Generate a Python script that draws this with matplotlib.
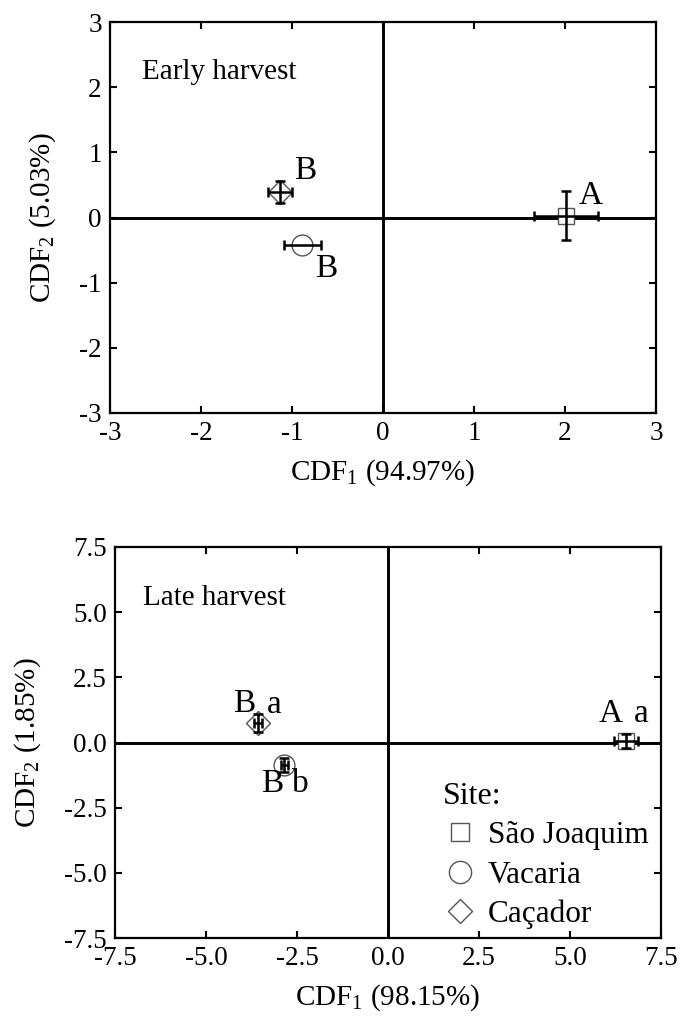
import matplotlib
matplotlib.use("Agg")
import matplotlib.pyplot as plt
from matplotlib.lines import Line2D
import numpy as np

plt.rcParams['font.family'] = ['Liberation Serif', 'DejaVu Serif']
plt.rcParams['mathtext.fontset'] = 'custom'
plt.rcParams['mathtext.rm'] = 'Liberation Serif'
plt.rcParams['axes.unicode_minus'] = False

sites = ["São Joaquim", "Vacaria", "Caçador"]
markers = ["s", "o", "D"]
marker_sizes = [12, 15, 12]

# Early harvest
early_x = [2.01, -0.885, -1.13]
early_y = [0.03, -0.42, 0.39]
early_xerr = [0.35, 0.20, 0.13]
early_yerr = [0.38, 0.0, 0.17]
early_labels = [("A", 2.28, 0.33), ("B", -0.62, -0.78), ("B", -0.86, 0.72)]

# Late harvest
late_x = [6.53, -2.85, -3.57]
late_y = [0.05, -0.87, 0.75]
late_xerr = [0.33, 0.10, 0.12]
late_yerr = [0.28, 0.26, 0.36]
late_labels = [("A", 6.12, 1.1), ("a", 6.95, 1.1),
               ("B", -3.96, 1.5), ("a", -3.12, 1.45),
               ("B", -3.19, -1.6), ("b", -2.41, -1.6)]

fig = plt.figure(figsize=(6.81, 10.23), dpi=100)
ax1 = fig.add_axes([110/681, 1-413/1023, 546/681, 391/1023])
ax2 = fig.add_axes([115/681, 1-938/1023, 546/681, 391/1023])

def style(ax):
    for s in ax.spines.values():
        s.set_linewidth(1.6)
    ax.tick_params(direction='in', length=5, width=1.5, top=True, right=True,
                   labelsize=19.5, pad=6)
    ax.axhline(0, color='black', lw=2.1, zorder=1)
    ax.axvline(0, color='black', lw=2.1, zorder=1)

def draw(ax, xs, ys, xe, ye):
    for x, y, ex, ey, m, ms in zip(xs, ys, xe, ye, markers, marker_sizes):
        ax.plot(x, y, marker=m, ms=ms, mfc='white', mec='#555555', mew=1.0,
                ls='none', zorder=3)
        ax.errorbar(x, y, xerr=ex, yerr=ey if ey > 0 else None, fmt='none',
                    ecolor='black', elinewidth=1.8, capsize=3.5, capthick=1.8,
                    zorder=4)

style(ax1)
draw(ax1, early_x, early_y, early_xerr, early_yerr)
ax1.set_xlim(-3, 3)
ax1.set_ylim(-3, 3)
ax1.set_xticks(np.arange(-3, 4, 1))
ax1.set_yticks(np.arange(-3, 4, 1))
for t, x, y in early_labels:
    ax1.text(x, y, t, fontsize=24, ha='center', va='center')
ax1.text(-2.65, 2.23, "Early harvest", fontsize=21, ha='left', va='center')
ax1.set_xlabel(r"CDF$_\mathregular{1}$ (94.97%)", fontsize=21, labelpad=8)
ax1.set_ylabel(r"CDF$_\mathregular{2}$ (5.03%)", fontsize=21, labelpad=15)

style(ax2)
draw(ax2, late_x, late_y, late_xerr, late_yerr)
ax2.set_xlim(-7.5, 7.5)
ax2.set_ylim(-7.5, 7.5)
ticks2 = np.arange(-7.5, 7.6, 2.5)
ax2.set_xticks(ticks2)
ax2.set_yticks(ticks2)
ax2.set_xticklabels([f"{t:.1f}" for t in ticks2])
ax2.set_yticklabels([f"{t:.1f}" for t in ticks2])
for t, x, y in late_labels:
    ax2.text(x, y, t, fontsize=24, ha='center', va='center')
ax2.text(-6.72, 5.53, "Late harvest", fontsize=21, ha='left', va='center')
ax2.set_xlabel(r"CDF$_\mathregular{1}$ (98.15%)", fontsize=21, labelpad=8)
ax2.set_ylabel(r"CDF$_\mathregular{2}$ (1.85%)", fontsize=21, labelpad=15)

handles = [Line2D([], [], marker=m, ms=ms, mfc='white', mec='#555555', mew=1.0,
                  ls='none') for m, ms in zip(markers, [13, 16, 12])]
leg = ax2.legend(handles, sites, title="Site:", loc='lower left',
                 bbox_to_anchor=(0.577, -0.01), frameon=False, fontsize=22.5,
                 title_fontsize=23, alignment='left', handletextpad=0.35,
                 labelspacing=0.33, borderaxespad=0.0, handlelength=1.1)

fig.savefig("out.png", dpi=100)
